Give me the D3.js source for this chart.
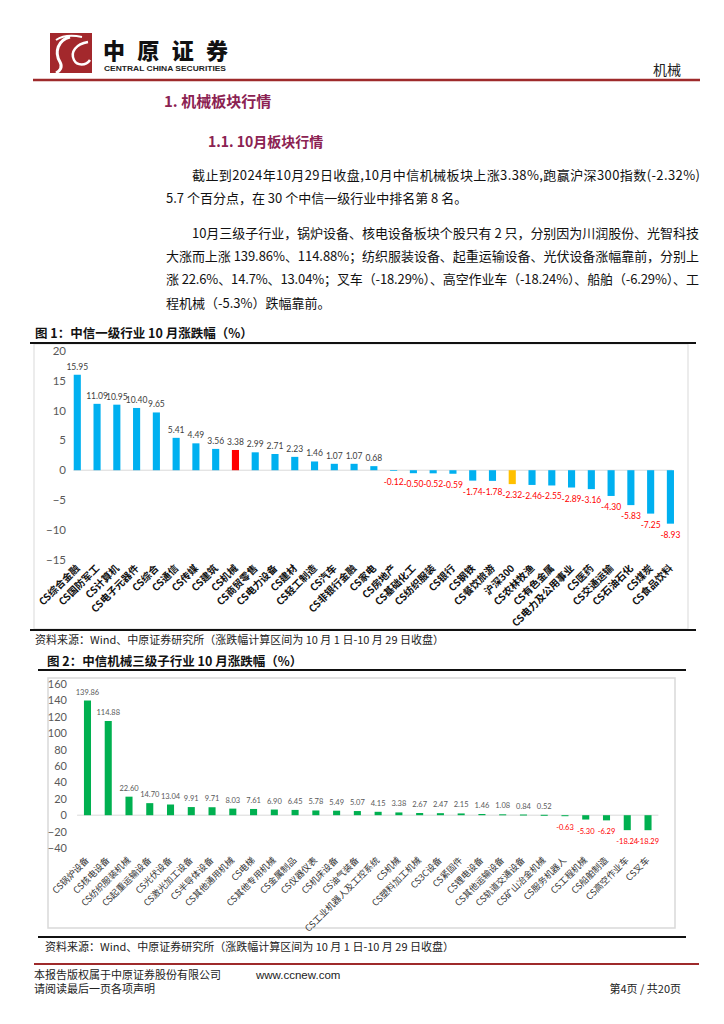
<!DOCTYPE html>
<html><head><meta charset="utf-8">
<script src="https://cdn.jsdelivr.net/npm/d3@7"></script>
<style>body{margin:0;background:#fff} svg{display:block}</style>
</head><body>
<svg id="c" width="724" height="1024"></svg>
<script>
// ---------- data ----------
const industries1 = ["CS综合金融","CS国防军工","CS计算机","CS电子元器件","CS综合","CS通信","CS传媒","CS建筑","CS机械","CS商贸零售","CS电力设备","CS建材","CS轻工制造","CS汽车","CS非银行金融","CS家电","CS房地产","CS基础化工","CS纺织服装","CS银行","CS钢铁","CS餐饮旅游","沪深300","CS农林牧渔","CS有色金属","CS电力及公用事业","CS医药","CS交通运输","CS石油石化","CS煤炭","CS食品饮料"];
const changes1 = [15.95,11.09,10.95,10.40,9.65,5.41,4.49,3.56,3.38,2.99,2.71,2.23,1.46,1.07,1.07,0.68,-0.12,-0.50,-0.52,-0.59,-1.74,-1.78,-2.32,-2.46,-2.55,-2.89,-3.16,-4.30,-5.83,-7.25,-8.93];
const ticks1 = [-15,-10,-5,0,5,10,15,20];
const focusIndustry = "CS机械";
const benchmark = "沪深300";

const industries2 = ["CS锅炉设备","CS核电设备","CS纺织服装机械","CS起重运输设备","CS光伏设备","CS激光加工设备","CS半导体设备","CS其他通用机械","CS电梯","CS其他专用机械","CS金属制品","CS仪器仪表","CS机床设备","CS油气装备","CS工业机器人及工控系统","CS机械","CS塑料加工机械","CS3C设备","CS紧固件","CS锂电设备","CS其他运输设备","CS轨道交通设备","CS矿山冶金机械","CS服务机器人","CS工程机械","CS船舶制造","CS高空作业车","CS叉车"];
const changes2 = [139.86,114.88,22.60,14.70,13.04,9.91,9.71,8.03,7.61,6.90,6.45,5.78,5.49,5.07,4.15,3.38,2.67,2.47,2.15,1.46,1.08,0.84,0.52,-0.63,-5.30,-6.29,-18.24,-18.29];
const ticks2 = [-40,-20,0,20,40,60,80,100,120,140,160];

// ---------- page ----------
const CJK = "'Noto Sans CJK SC', sans-serif";
const NUM = "Lato, 'Noto Sans', sans-serif";
const svg = d3.select("#c");

// header logo
const logo = svg.append("g");
logo.append("rect").attr("x",50).attr("y",33).attr("width",42).attr("height",40).attr("fill","#A3282C");
logo.append("path").attr("d","M70,37 C58,40 54,52 60,62 C63,67 60,71 56,73").attr("fill","none").attr("stroke","#fff").attr("stroke-width",3);
logo.append("path").attr("d","M88,42 C76,44 70,52 74,60 C77,66 86,66 90,60").attr("fill","none").attr("stroke","#fff").attr("stroke-width",2.5);
logo.append("path").attr("d","M56,40 C62,36 72,35 82,37").attr("fill","none").attr("stroke","#fff").attr("stroke-width",2);
svg.append("text").attr("x",103).attr("y",59).attr("font-family",CJK).attr("font-weight",900)
  .attr("font-size",22).attr("textLength",125).attr("lengthAdjust","spacing").attr("fill","#111").text("中原证券");
svg.append("text").attr("x",104).attr("y",71).attr("font-family","'Liberation Sans', Arial, sans-serif").attr("font-weight","bold")
  .attr("font-size",7.5).attr("textLength",122).attr("lengthAdjust","spacingAndGlyphs").attr("fill","#222").text("CENTRAL CHINA SECURITIES");
svg.append("text").attr("x",681).attr("y",75).attr("text-anchor","end").attr("font-family",CJK)
  .attr("font-size",14).attr("fill","#222").text("机械");
svg.append("line").attr("x1",33).attr("x2",700).attr("y1",80).attr("y2",80).attr("stroke","#9E2A2B").attr("stroke-width",2.5);

// headings
svg.append("text").attr("x",164).attr("y",107).attr("font-family",CJK).attr("font-weight","bold")
  .attr("font-size",15).attr("fill","#8B2252").text("1. 机械板块行情");
svg.append("text").attr("x",208).attr("y",147).attr("font-family",CJK).attr("font-weight","bold")
  .attr("font-size",14).attr("fill","#8B2252").text("1.1. 10月板块行情");

// body text
const bodyLines = [
  {x:192, y:180, t:"截止到2024年10月29日收盘,10月中信机械板块上涨3.38%,跑赢沪深300指数(-2.32%)", w:508},
  {x:166, y:203, t:"5.7 个百分点，在 30 个中信一级行业中排名第 8 名。"},
  {x:192, y:238, t:"10月三级子行业，锅炉设备、核电设备板块个股只有 2 只，分别因为川润股份、光智科技", w:507},
  {x:166, y:261, t:"大涨而上涨 139.86%、114.88%；纺织服装设备、起重运输设备、光伏设备涨幅靠前，分别上", w:533},
  {x:166, y:284, t:"涨 22.6%、14.7%、13.04%；叉车（-18.29%）、高空作业车（-18.24%）、船舶（-6.29%）、工", w:533},
  {x:166, y:308, t:"程机械（-5.3%）跌幅靠前。"}
];
bodyLines.forEach(l => {
  const t = svg.append("text").attr("x",l.x).attr("y",l.y).attr("font-family",CJK)
    .attr("font-size",13).attr("fill","#111").text(l.t);
  if (l.w) t.attr("textLength",l.w).attr("lengthAdjust","spacing");
});

// ---------- figure 1 ----------
svg.append("text").attr("x",35).attr("y",338).attr("font-family",CJK).attr("font-weight","bold")
  .attr("font-size",12.5).attr("fill","#111").text("图 1：中信一级行业 10 月涨跌幅（%）");
svg.append("rect").attr("x",34).attr("y",344).attr("width",654).attr("height",285)
  .attr("fill","none").attr("stroke","#d9d9d9").attr("stroke-width",1);
svg.append("line").attr("x1",30).attr("x2",696).attr("y1",343).attr("y2",343).attr("stroke","#111").attr("stroke-width",2);
svg.append("line").attr("x1",30).attr("x2",696).attr("y1",630).attr("y2",630).attr("stroke","#111").attr("stroke-width",2);
svg.append("text").attr("x",35).attr("y",644).attr("font-family",CJK)
  .attr("font-size",11).attr("fill","#222").text("资料来源：Wind、中原证券研究所（涨跌幅计算区间为 10 月 1 日-10 月 29 日收盘）");

const x1 = d3.scaleBand().domain(industries1).range([67.4,680.3]).paddingInner(0.64).paddingOuter(0.32);
const y1 = d3.scaleLinear().domain([-15,20]).range([560,350.5]);
const g1 = svg.append("g");
g1.append("line").attr("x1",x1.range()[0]+6).attr("x2",x1.range()[1]-8)
  .attr("y1",y1(0)).attr("y2",y1(0)).attr("stroke","#d9d9d9").attr("stroke-width",1);
const ax1 = g1.append("g").attr("transform","translate(66,0)")
  .call(d3.axisLeft(y1).tickValues(ticks1).tickSize(0).tickPadding(0));
ax1.select(".domain").remove();
ax1.selectAll("text").attr("font-family",NUM).attr("font-size",11.5).attr("fill","#595959");
const d1 = industries1.map((c,i)=>({c, v:changes1[i]}));
g1.selectAll("rect.bar").data(d1).join("rect").attr("class","bar")
  .attr("x",d=>x1(d.c)).attr("width",x1.bandwidth())
  .attr("y",d=>y1(Math.max(0,d.v))).attr("height",d=>Math.abs(y1(d.v)-y1(0)))
  .attr("fill",d=>d.c===focusIndustry?"#FF0000":d.c===benchmark?"#FFC000":"#00B0F0");
g1.selectAll("text.val").data(d1).join("text").attr("class","val")
  .attr("x",d=>x1(d.c)+x1.bandwidth()/2)
  .attr("y",d=>d.v>=0?y1(d.v)-5:y1(d.v)+14)
  .attr("text-anchor","middle").attr("font-family",NUM).attr("font-size",8.5)
  .attr("fill",d=>d.v>=0?"#404040":"#FF0000").text(d=>d.v.toFixed(2));
g1.selectAll("text.cat").data(d1).join("text").attr("class","cat")
  .attr("transform",d=>`translate(${x1(d.c)+x1.bandwidth()/2+3},569) rotate(-45)`)
  .attr("text-anchor","end").attr("font-family",CJK).attr("font-weight","bold")
  .attr("font-size",10).attr("fill","#111").text(d=>d.c);

// ---------- figure 2 ----------
svg.append("text").attr("x",47).attr("y",666).attr("font-family",CJK).attr("font-weight","bold")
  .attr("font-size",12.5).attr("fill","#111").text("图 2：中信机械三级子行业 10 月涨跌幅（%）");
svg.append("line").attr("x1",38).attr("x2",686).attr("y1",670).attr("y2",670).attr("stroke","#111").attr("stroke-width",2);
svg.append("rect").attr("x",48).attr("y",678).attr("width",627).attr("height",250)
  .attr("fill","none").attr("stroke","#d9d9d9").attr("stroke-width",1.5);
svg.append("line").attr("x1",38).attr("x2",686).attr("y1",937).attr("y2",937).attr("stroke","#111").attr("stroke-width",2);
svg.append("text").attr("x",45).attr("y",951).attr("font-family",CJK)
  .attr("font-size",11).attr("fill","#222").text("资料来源：Wind、中原证券研究所（涨跌幅计算区间为 10 月 1 日-10 月 29 日收盘）");

const x2 = d3.scaleBand().domain(industries2).range([77.1,658.4]).paddingInner(0.66).paddingOuter(0.33);
const y2 = d3.scaleLinear().domain([-40,160]).range([848,684]);
const g2 = svg.append("g");
g2.append("line").attr("x1",x2.range()[0]).attr("x2",x2.range()[1])
  .attr("y1",y2(0)).attr("y2",y2(0)).attr("stroke","#d9d9d9").attr("stroke-width",1);
const ax2 = g2.append("g").attr("transform","translate(67,0)")
  .call(d3.axisLeft(y2).tickValues(ticks2).tickSize(0).tickPadding(0));
ax2.select(".domain").remove();
ax2.selectAll("text").attr("font-family",NUM).attr("font-size",11).attr("fill","#595959");
const d2 = industries2.map((c,i)=>({c, v:changes2[i]}));
g2.selectAll("rect.bar").data(d2).join("rect").attr("class","bar")
  .attr("x",d=>x2(d.c)).attr("width",x2.bandwidth())
  .attr("y",d=>y2(Math.max(0,d.v))).attr("height",d=>Math.max(1,Math.abs(y2(d.v)-y2(0))))
  .attr("fill","#00B050");
g2.selectAll("text.val").data(d2).join("text").attr("class","val")
  .attr("x",d=>x2(d.c)+x2.bandwidth()/2)
  .attr("y",d=>d.v>=0?y2(d.v)-6:y2(d.v)+14)
  .attr("text-anchor","middle").attr("font-family",NUM).attr("font-size",7.5)
  .attr("fill",d=>d.v>=0?"#595959":"#FF0000").text(d=>d.v.toFixed(2));
g2.selectAll("text.cat").data(d2).join("text").attr("class","cat")
  .attr("transform",d=>`translate(${x2(d.c)+x2.bandwidth()/2+2},861) rotate(-45)`)
  .attr("text-anchor","end").attr("font-family",CJK)
  .attr("font-size",9).attr("fill","#333").text(d=>d.c);

// ---------- footer ----------
svg.append("line").attr("x1",34).attr("x2",699).attr("y1",964).attr("y2",964).attr("stroke","#9E2A2B").attr("stroke-width",2);
svg.append("text").attr("x",34).attr("y",979).attr("font-family",CJK).attr("font-size",11).attr("fill","#222")
  .text("本报告版权属于中原证券股份有限公司");
svg.append("text").attr("x",256).attr("y",979).attr("font-family","'Liberation Sans', Arial, sans-serif").attr("font-size",11.5).attr("fill","#222")
  .text("www.ccnew.com");
svg.append("text").attr("x",34).attr("y",993).attr("font-family",CJK).attr("font-size",11).attr("fill","#222")
  .text("请阅读最后一页各项声明");
svg.append("text").attr("x",681).attr("y",993).attr("text-anchor","end").attr("font-family",CJK).attr("font-size",11).attr("fill","#222")
  .text("第4页 / 共20页");
</script>
</body></html>
